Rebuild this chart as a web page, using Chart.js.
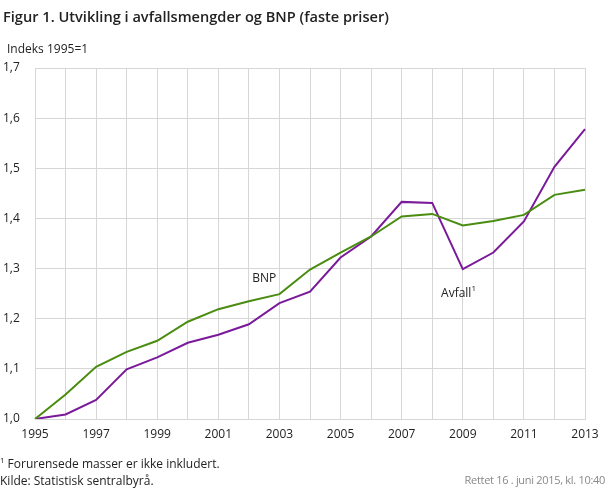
<!DOCTYPE html>
<html>
<head>
<meta charset="utf-8">
<script src="https://cdn.jsdelivr.net/npm/chart.js@4/dist/chart.umd.min.js"></script>
<style>
  body { margin: 0; background: #fff; font-family: "Open Sans", sans-serif; color: #222; }
  #wrap { position: relative; width: 610px; height: 489px; }
  canvas { position: absolute; left: 0; top: 0; }
  .txt { position: absolute; white-space: nowrap; }
  #title { left: 3px; top: 6px; font-size: 14.6px; font-weight: 600; }
  #unit { left: 7px; top: 40px; font-size: 12px; }
  #note { left: 0; top: 455px; font-size: 12px; }
  #src { left: 0; top: 472px; font-size: 12px; }
  #upd { right: 5px; top: 472px; font-size: 11px; color: #888; letter-spacing: -0.3px; }
  sup { font-size: 0.65em; }
</style>
</head>
<body>
<div id="wrap">
  <canvas id="chart" width="610" height="489"></canvas>
  <div class="txt" id="title">Figur 1. Utvikling i avfallsmengder og BNP (faste priser)</div>
  <div class="txt" id="unit">Indeks 1995=1</div>
  <div class="txt" id="note"><sup>1</sup> Forurensede masser er ikke inkludert.</div>
  <div class="txt" id="src">Kilde: Statistisk sentralbyrå.</div>
  <div class="txt" id="upd">Rettet 16 . juni 2015, kl. 10:40</div>
</div>
<script>
const years = ['1995','1996','1997','1998','1999','2000','2001','2002','2003','2004',
               '2005','2006','2007','2008','2009','2010','2011','2012','2013'];
const bnp = [1.000, 1.049, 1.104, 1.134, 1.156, 1.194, 1.219, 1.235, 1.249, 1.298,
             1.332, 1.364, 1.404, 1.409, 1.386, 1.395, 1.407, 1.447, 1.457];
const avfall = [1.000, 1.009, 1.038, 1.099, 1.123, 1.152, 1.168, 1.189, 1.231, 1.254,
                1.322, 1.364, 1.433, 1.431, 1.299, 1.332, 1.394, 1.503, 1.578];
const xTickLabels = ['1995','1997','1999','2001','2003','2005','2007','2009','2011','2013'];
const yTicks = [1.0, 1.1, 1.2, 1.3, 1.4, 1.5, 1.6, 1.7];

const gridColor = '#d6d6d6';

// series labels written inside the plot
const lineLabels = {
  id: 'lineLabels',
  afterDatasetsDraw(c) {
    const ctx = c.ctx, x = c.scales.x, y = c.scales.y;
    ctx.save();
    ctx.fillStyle = '#222';
    ctx.font = '12px "Open Sans"';
    ctx.textAlign = 'center';
    ctx.textBaseline = 'middle';
    ctx.fillText('BNP', x.getPixelForValue(7.5), y.getPixelForValue(1.28));
    const ax = x.getPixelForValue(13.78) - 15, ay = y.getPixelForValue(1.251);
    ctx.textAlign = 'left';
    ctx.fillText('Avfall', ax, ay);
    const w = ctx.measureText('Avfall').width;
    ctx.font = '8px "Open Sans"';
    ctx.fillText('1', ax + w, ay - 4);
    ctx.restore();
  }
};

new Chart(document.getElementById('chart'), {
  type: 'line',
  data: {
    labels: years,
    datasets: [
      { label: 'BNP', data: bnp, borderColor: '#4a8c10', borderWidth: 2, pointRadius: 0, tension: 0 },
      { label: 'Avfall', data: avfall, borderColor: '#7a1a9a', borderWidth: 2, pointRadius: 0, tension: 0 }
    ]
  },
  options: {
    responsive: false,
    animation: false,
    layout: { padding: { top: 68, right: 25, bottom: 40, left: 3 } },
    plugins: { legend: { display: false }, tooltip: { enabled: false } },
    scales: {
      x: {
        offset: false,
        grid: { color: gridColor, drawTicks: false },
        border: { color: gridColor },
        ticks: {
          autoSkip: false, maxRotation: 0, padding: 8,
          color: '#222', font: { family: 'Open Sans', size: 12 },
          callback: (v, i) => xTickLabels.includes(years[i]) ? years[i] : ''
        },
        afterFit: s => { s.height = 30; }
      },
      y: {
        min: 1.0, max: 1.7,
        grid: { color: gridColor, drawTicks: false },
        border: { display: false },
        afterBuildTicks: s => { s.ticks = yTicks.map(v => ({ value: v })); },
        ticks: {
          crossAlign: 'far', padding: 0,
          color: '#222', font: { family: 'Open Sans', size: 12 },
          callback: v => v.toFixed(1).replace('.', ',')
        },
        afterFit: s => { s.width = 32; }
      }
    }
  },
  plugins: [lineLabels]
});
</script>
</body>
</html>
